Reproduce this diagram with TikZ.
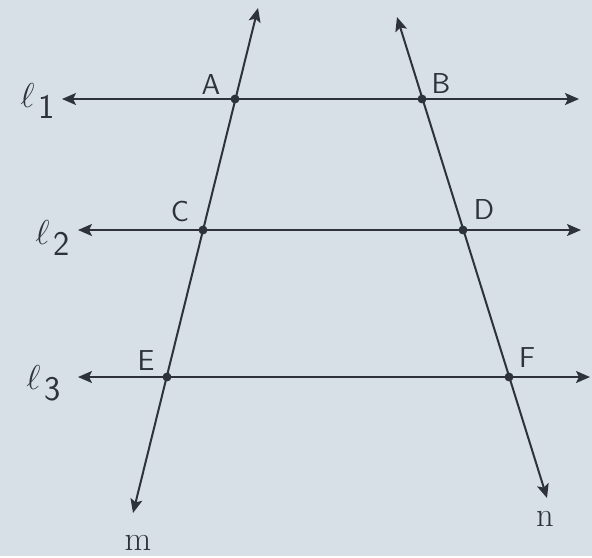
\documentclass[tikz,border=0pt]{standalone}
\usepackage{tikz}
\usetikzlibrary{arrows.meta}
\definecolor{paper}{RGB}{214,224,230}
\definecolor{ink}{RGB}{45,50,60}
\tikzset{
  line/.style={ink,line width=1pt,{Stealth[length=7pt,width=6pt,inset=1.5pt]}-{Stealth[length=7pt,width=6pt,inset=1.5pt]}},
  dot/.style={circle,draw=ink,fill=ink,inner sep=0pt,minimum size=4pt},
  ptlabel/.style={font=\sffamily\Large,text=ink},
  linelabel/.style={font=\LARGE,text=ink},
  endlabel/.style={font=\LARGE,text=ink},
}

\begin{document}
\begin{tikzpicture}[x=0.5pt,y=-0.5pt]
  % Paper
  \fill[paper] (0,0) rectangle (592,556);

  % Line ends
  \coordinate (l1w) at (62,99);  \coordinate (l1e) at (579,99);
  \coordinate (l2w) at (78,230); \coordinate (l2e) at (581,230);
  \coordinate (l3w) at (78,377); \coordinate (l3e) at (590,377);
  \coordinate (mtop) at (258,8); \coordinate (mbot) at (133,513);
  \coordinate (ntop) at (397,17); \coordinate (nbot) at (547,498);

  % Parallel lines and transversals
  \draw[line] (l1w) -- (l1e);
  \draw[line] (l2w) -- (l2e);
  \draw[line] (l3w) -- (l3e);
  \draw[line] (mbot) -- (mtop);
  \draw[line] (ntop) -- (nbot);

  % Intersection points
  \node[dot] (A) at (235,99) {};
  \node[dot] (B) at (422,99) {};
  \node[dot] (C) at (203,230) {};
  \node[dot] (D) at (463,230) {};
  \node[dot] (E) at (167,377) {};
  \node[dot] (F) at (509,377) {};

  % Point labels
  \node[ptlabel] (labA) at (211,84) {A};
  \node[ptlabel] (labB) at (441,83) {B};
  \node[ptlabel] (labC) at (180,211) {C};
  \node[ptlabel] (labD) at (484,209) {D};
  \node[ptlabel] (labE) at (146,361) {E};
  \node[ptlabel] (labF) at (527,358) {F};

  % Line labels
  \node[linelabel] (labl1) at (38,101) {$\ell_{\,\textsf{1}}$};
  \node[linelabel] (labl2) at (53,238) {$\ell_{\,\textsf{2}}$};
  \node[linelabel] (labl3) at (44,383) {$\ell_{\,\textsf{3}}$};
  \node[endlabel] (labm) at (138,543) {m};
  \node[endlabel] (labn) at (545,519) {n};
\end{tikzpicture}
\end{document}
